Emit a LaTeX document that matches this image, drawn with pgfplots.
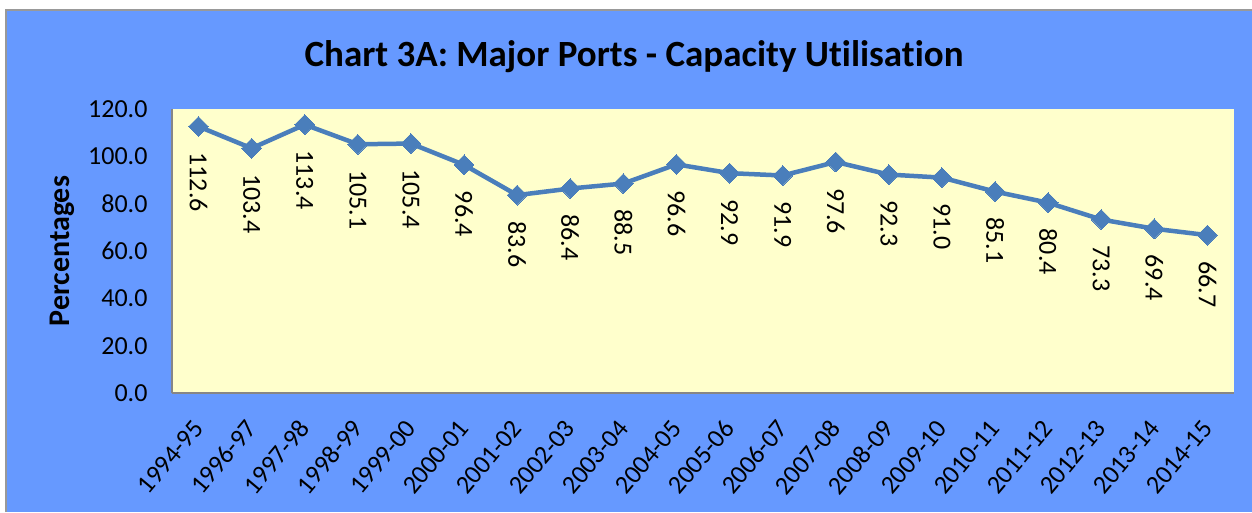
\documentclass[border=0pt]{standalone}
\usepackage{pgfplots}
\pgfplotsset{compat=1.18}
\usepackage{fontspec}
\setmainfont{Carlito}[Ligatures={NoCommon}]
\definecolor{bgblue}{RGB}{102,153,255}
\definecolor{plotbg}{RGB}{255,255,204}
\definecolor{linec}{RGB}{74,126,187}
\definecolor{axgray}{RGB}{134,134,134}
\begin{document}
\begin{tikzpicture}[x=1pt,y=1pt]
\path[use as bounding box] (0,0) rectangle (1252,512);
\fill[white] (0,0) rectangle (1252,512);
\fill[bgblue] (6,0) rectangle (1252,502);
\draw[black!40, line width=2pt] (6,0) -- (6,502) -- (1252,502);
\node[font=\fontsize{37}{41}\selectfont\bfseries] at (634,455) {Chart 3A: Major Ports - Capacity Utilisation};
\begin{axis}[
  at={(172pt,119pt)}, anchor=south west, scale only axis,
  width=1062pt, height=284pt,
  xmin=-0.5, xmax=19.5, ymin=0, ymax=120, ytick={0,20,...,120},
  xtick={0,...,19},
  xticklabels={1994-95,1996-97,1997-98,1998-99,1999-00,2000-01,2001-02,2002-03,2003-04,2004-05,2005-06,2006-07,2007-08,2008-09,2009-10,2010-11,2011-12,2012-13,2013-14,2014-15},
  axis background/.style={fill=plotbg},
  axis x line*=bottom, axis y line*=left,
  axis line style={axgray, line width=1.5pt, -},
  major tick length=0pt,
  /pgf/number format/assume math mode=true,
  tick label style={font=\fontsize{26}{30}\selectfont},
  yticklabel={\pgfmathprintnumber[fixed,fixed zerofill,precision=1]{\tick}},
  yticklabel style={anchor=east, xshift=-21pt},
  xticklabel style={xshift=2pt, yshift=-28pt, rotate=50, anchor=east},
  ylabel={\bfseries Percentages},
  ylabel style={font=\fontsize{30}{34}\selectfont, at={(axis description cs:-0.1036,0.5)}, anchor=center},
  nodes near coords={\pgfmathprintnumber[fixed,fixed zerofill,precision=1]{\pgfplotspointmeta}},
  every node near coord/.append style={font=\fontsize{26}{30}\selectfont, black, yshift=-26pt, rotate=-90, anchor=west, inner sep=0pt},
  clip=false,
]
\addplot[linec, line width=4.5pt, line join=round, mark=square*, mark size=7pt,
  mark options={rotate=45, fill=linec, draw=linec, line width=0pt}]
  coordinates {(0,112.6)(1,103.4)(2,113.4)(3,105.1)(4,105.4)(5,96.4)(6,83.6)(7,86.4)(8,88.5)(9,96.6)(10,92.9)(11,91.9)(12,97.6)(13,92.3)(14,91.0)(15,85.1)(16,80.4)(17,73.3)(18,69.4)(19,66.7)};
\end{axis}
\end{tikzpicture}
\end{document}
